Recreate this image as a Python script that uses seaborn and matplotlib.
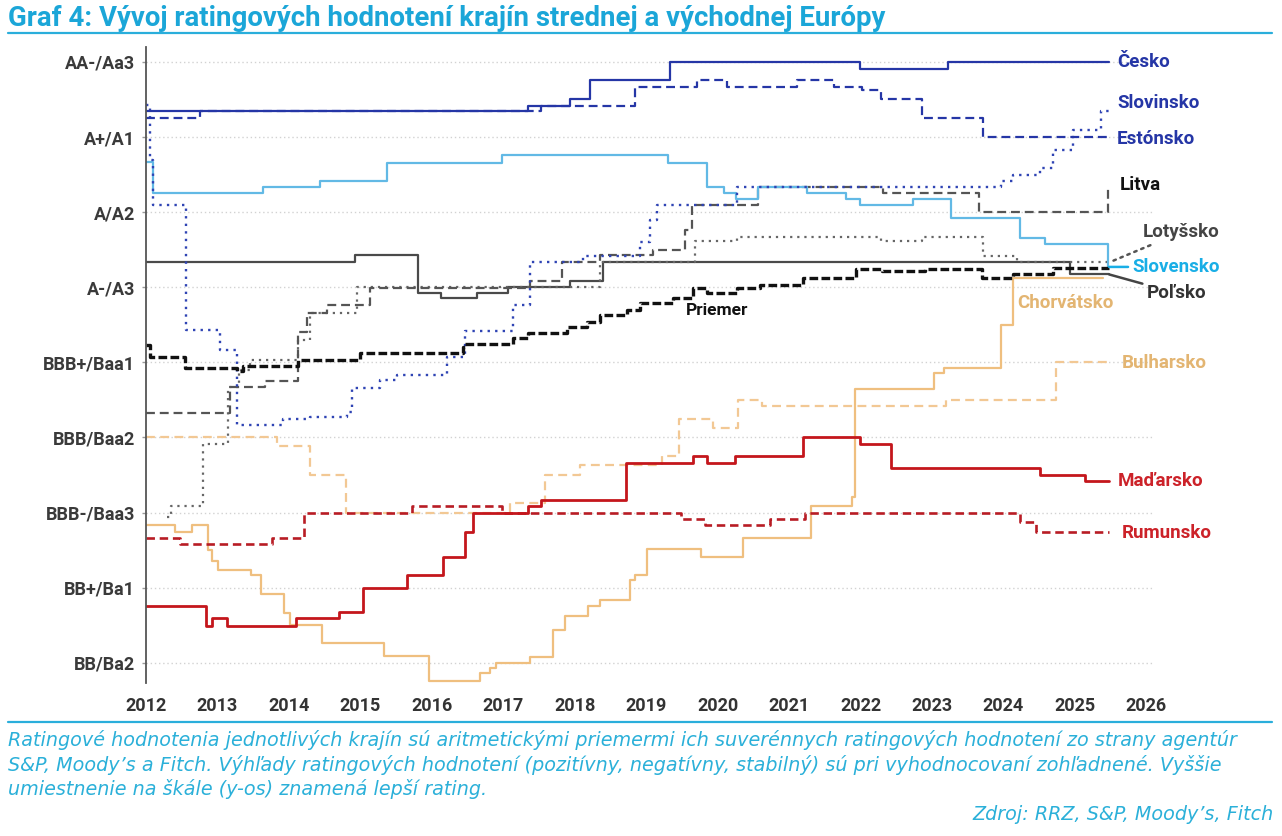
import matplotlib
matplotlib.use("Agg")
import matplotlib.pyplot as plt
import seaborn as sns
import pandas as pd
from matplotlib.lines import Line2D

W, H = 1282, 836

# ---------------- data ----------------
rating_labels = ["BB/Ba2", "BB+/Ba1", "BBB-/Baa3", "BBB/Baa2", "BBB+/Baa1",
                 "A-/A3", "A/A2", "A+/A1", "AA-/Aa3"]
year_ticks = list(range(2012, 2027))

cesko_t = [2012.0, 2017.35, 2017.93, 2018.21, 2019.33, 2021.99, 2023.22, 2025.48]
cesko_v = [7.34, 7.41, 7.50, 7.76, 8.00, 7.90, 8.00, 8.00]

estonsko_t = [2012.0, 2012.76, 2017.53, 2018.84, 2019.71, 2020.13, 2021.11, 2021.63,
              2022.02, 2022.29, 2022.86, 2023.71, 2025.48]
estonsko_v = [7.25, 7.34, 7.41, 7.67, 7.76, 7.67, 7.76, 7.67, 7.63, 7.51, 7.25, 7.00, 7.00]

slovinsko_t = [2012.0, 2012.05, 2012.10, 2012.56, 2013.04, 2013.27, 2013.92, 2014.30,
               2014.82, 2014.89, 2015.28, 2015.51, 2016.21, 2016.46, 2017.14, 2017.38,
               2018.12, 2018.91, 2019.05, 2019.15, 2020.27, 2023.97, 2024.13, 2024.51,
               2024.69, 2024.97, 2025.37, 2025.48]
slovinsko_v = [7.43, 6.70, 6.10, 4.43, 4.16, 3.16, 3.24, 3.27, 3.34, 3.66, 3.76, 3.83,
               4.07, 4.42, 4.76, 5.34, 5.41, 5.60, 5.90, 6.09, 6.34, 6.41, 6.50, 6.59,
               6.83, 7.09, 7.34, 7.34]

litva_t = [2012.0, 2013.18, 2013.67, 2014.13, 2014.25, 2014.53, 2015.14, 2017.38, 2017.82,
           2018.35, 2019.10, 2019.54, 2019.64, 2020.57, 2022.31, 2023.66, 2025.46, 2025.48]
litva_v = [3.33, 3.67, 3.75, 4.41, 4.66, 4.76, 4.99, 5.08, 5.34, 5.43, 5.50, 5.76, 6.09,
           6.34, 6.25, 6.00, 6.34, 6.34]

lotyssko_t = [2012.29, 2012.35, 2012.80, 2013.15, 2013.30, 2013.46, 2014.13, 2014.30,
              2014.95, 2018.35, 2019.68, 2020.27, 2022.29, 2022.86, 2023.71, 2024.19, 2025.48]
lotyssko_v = [1.94, 2.09, 2.91, 3.67, 3.90, 4.03, 4.30, 4.66, 5.00, 5.34, 5.62, 5.67,
              5.61, 5.67, 5.42, 5.33, 5.33]

slovensko_t = [2012.0, 2012.10, 2013.64, 2014.44, 2015.37, 2016.98, 2019.31, 2019.85,
               2020.09, 2020.26, 2020.57, 2021.25, 2021.80, 2021.99, 2022.73, 2023.27,
               2024.23, 2024.58, 2025.47, 2025.48]
slovensko_v = [6.67, 6.26, 6.34, 6.41, 6.66, 6.76, 6.66, 6.34, 6.26, 6.17, 6.34, 6.26,
               6.17, 6.09, 6.17, 5.92, 5.66, 5.58, 5.27, 5.27]

polsko_t = [2012.0, 2014.93, 2015.81, 2016.13, 2016.63, 2017.07, 2017.93, 2018.40, 2024.93, 2025.48]
polsko_v = [5.33, 5.43, 4.92, 4.86, 4.92, 5.00, 5.08, 5.34, 5.17, 5.17]

priemer_t = [2012.0, 2012.06, 2012.55, 2013.27, 2013.36, 2014.13, 2015.00, 2016.44, 2016.47,
             2017.14, 2017.35, 2017.89, 2018.17, 2018.35, 2018.73, 2018.91, 2019.38, 2019.65,
             2019.85, 2020.27, 2020.60, 2021.20, 2021.94, 2022.30, 2022.90, 2023.70, 2024.13,
             2024.69, 2025.48]
priemer_v = [4.23, 4.07, 3.93, 3.89, 3.95, 4.03, 4.12, 4.21, 4.25, 4.32, 4.39, 4.47, 4.54,
             4.63, 4.70, 4.79, 4.85, 4.99, 4.92, 4.99, 5.03, 5.12, 5.24, 5.21, 5.24, 5.12,
             5.18, 5.25, 5.25]

chorvatsko_t = [2012.0, 2012.41, 2012.64, 2012.87, 2012.93, 2013.01, 2013.47, 2013.61,
                2013.93, 2014.01, 2014.46, 2015.33, 2015.96, 2016.67, 2016.82, 2016.90,
                2017.38, 2017.70, 2017.86, 2018.19, 2018.35, 2018.78, 2018.84, 2019.01,
                2019.77, 2020.36, 2021.31, 2021.88, 2021.93, 2023.03, 2023.17, 2023.97,
                2024.14, 2025.39]
chorvatsko_v = [1.84, 1.74, 1.84, 1.50, 1.35, 1.24, 1.17, 0.91, 0.66, 0.50, 0.26, 0.09,
                -0.25, -0.14, -0.07, 0.00, 0.08, 0.44, 0.62, 0.75, 0.83, 1.10, 1.17, 1.51,
                1.41, 1.66, 2.09, 2.20, 3.65, 3.86, 3.92, 4.50, 5.12, 5.12]

bulharsko_t = [2012.0, 2013.84, 2014.30, 2014.80, 2017.10, 2017.58, 2018.07, 2019.22,
               2019.46, 2019.94, 2020.29, 2020.62, 2023.20, 2024.74, 2025.48]
bulharsko_v = [3.00, 2.88, 2.50, 2.00, 2.12, 2.50, 2.63, 2.75, 3.25, 3.12, 3.50, 3.42,
               3.50, 4.00, 4.00]

madarsko_t = [2012.0, 2012.84, 2012.92, 2013.13, 2014.10, 2014.70, 2015.04, 2015.65,
              2016.16, 2016.47, 2016.58, 2017.35, 2017.53, 2018.72, 2019.66, 2019.85,
              2020.24, 2021.19, 2021.99, 2022.43, 2024.51, 2025.14, 2025.48]
madarsko_v = [0.75, 0.49, 0.59, 0.49, 0.59, 0.67, 1.00, 1.17, 1.41, 1.74, 2.00, 2.09,
              2.17, 2.66, 2.75, 2.66, 2.75, 3.00, 2.91, 2.59, 2.50, 2.42, 2.42]

rumunsko_t = [2012.0, 2012.47, 2013.76, 2014.21, 2015.72, 2016.98, 2019.49, 2019.82,
              2020.74, 2021.22, 2024.23, 2024.46, 2025.48]
rumunsko_v = [1.66, 1.58, 1.66, 2.00, 2.09, 2.00, 1.91, 1.83, 1.91, 2.00, 1.88, 1.74, 1.74]

title = "Graf 4: Vývoj ratingových hodnotení krajín strednej a východnej Európy"
note_lines = [
    "Ratingové hodnotenia jednotlivých krajín sú aritmetickými priemermi ich suverénnych ratingových hodnotení zo strany agentúr",
    "S&P, Moody’s a Fitch. Výhľady ratingových hodnotení (pozitívny, negatívny, stabilný) sú pri vyhodnocovaní zohľadnené. Vyššie",
    "umiestnenie na škále (y-os) znamená lepší rating.",
]
source = "Zdroj: RRZ, S&P, Moody’s, Fitch"

# ---------------- styles ----------------
DB = "#2536a6"
series = [
    # name, t, v, color, linestyle, lw
    ("Chorvátsko", chorvatsko_t, chorvatsko_v, "#efbf7f", "-", 1.6),
    ("Bulharsko", bulharsko_t, bulharsko_v, "#f2c894", (0, (4, 2.4)), 1.6),
    ("Rumunsko", rumunsko_t, rumunsko_v, "#b81c24", (0, (3.2, 1.8)), 1.9),
    ("Maďarsko", madarsko_t, madarsko_v, "#c4161c", "-", 2.0),
    ("Poľsko", polsko_t, polsko_v, "#4a4a4a", "-", 1.6),
    ("Lotyšsko", lotyssko_t, lotyssko_v, "#666666", (0, (1, 2.2)), 1.6),
    ("Litva", litva_t, litva_v, "#555555", (0, (4, 2.2)), 1.6),
    ("Slovensko", slovensko_t, slovensko_v, "#62b9e5", "-", 1.6),
    ("Slovinsko", slovinsko_t, slovinsko_v, "#2f44b4", (0, (1, 2.2)), 1.7),
    ("Estónsko", estonsko_t, estonsko_v, DB, (0, (4, 2.2)), 1.6),
    ("Česko", cesko_t, cesko_v, DB, "-", 1.6),
    ("Priemer", priemer_t, priemer_v, "#111111", (0, (2.6, 1.0)), 2.4),
]

# label: (x_year, y_value, color, leader)
labels = {
    "Česko": (2025.59, 8.00, DB, None),
    "Slovinsko": (2025.59, 7.45, DB, None),
    "Estónsko": (2025.59, 6.98, DB, None),
    "Litva": (2025.63, 6.36, "#111111", None),
    "Lotyšsko": (2025.95, 5.73, "#444444", ("#555555", (0, (1, 2)))),
    "Slovensko": (2025.81, 5.27, "#19aee6", ("#19aee6", "-")),
    "Poľsko": (2026.01, 4.92, "#333333", ("#444444", "-")),
    "Chorvátsko": (2024.20, 4.79, "#e3b572", None),
    "Bulharsko": (2025.65, 3.99, "#e3b572", None),
    "Maďarsko": (2025.60, 2.42, "#cc2229", None),
    "Rumunsko": (2025.66, 1.73, "#cc2229", None),
    "Priemer": (2019.56, 4.69, "#111111", None),
}

# ---------------- figure ----------------
sns.set_theme(style="white")
plt.rcParams["font.family"] = ["Roboto", "DejaVu Sans"]

fig = plt.figure(figsize=(W / 100, H / 100), dpi=100)
fig.patch.set_facecolor("white")
ax = fig.add_axes([146 / W, 1 - 683 / H, (1153.5 - 146) / W, (683 - 46.7) / H])

for name, t, v, col, ls, lw in series:
    df = pd.DataFrame({"t": t, "v": v})
    sns.lineplot(data=df, x="t", y="v", ax=ax, color=col, linestyle=ls, linewidth=lw,
                 drawstyle="steps-post", estimator=None, sort=False,
                 dash_capstyle="butt")

ax.set_xlim(2012, 2012 + (1153.5 - 146) / 71.45)
ax.set_ylim((662.7 - 683) / 75.1, (662.7 - 46.7) / 75.1)
ax.set_yticks(range(len(rating_labels)))
ax.set_yticklabels(rating_labels)
ax.set_xticks(year_ticks)
ax.set_xticklabels([str(y) for y in year_ticks])
ax.set_xlabel("")
ax.set_ylabel("")
ax.yaxis.grid(True, linestyle=(0, (1, 2)), color="#d2d2d2", linewidth=1.0)
ax.xaxis.grid(False)
for s in ["top", "right", "bottom"]:
    ax.spines[s].set_visible(False)
ax.spines["left"].set_color("#555555")
ax.spines["left"].set_linewidth(1.3)
ax.tick_params(axis="y", which="major", left=True, length=3, width=1, color="#999999",
               pad=5, labelsize=13, labelcolor="#3a3a3a")
ax.tick_params(axis="x", which="major", length=0, pad=10, labelsize=13, labelcolor="#333333")
for lab in ax.get_yticklabels() + ax.get_xticklabels():
    lab.set_fontweight("bold")

for name, (lx, ly, col, leader) in labels.items():
    kw = dict(fontsize=13.5, fontweight="bold", color=col, ha="left", va="center",
              annotation_clip=False)
    if name == "Priemer":
        kw["fontsize"] = 12.5
    if leader is None:
        ax.annotate(name, xy=(lx, ly), **kw)
    else:
        t_end, v_end = None, None
        for n, t, v, *_ in series:
            if n == name:
                t_end, v_end = t[-1], v[-1]
        ax.annotate(name, xy=(t_end, v_end), xytext=(lx, ly),
                    arrowprops=dict(arrowstyle="-", color=leader[0], linestyle=leader[1],
                                    lw=1.8, shrinkA=1, shrinkB=0), **kw)

# title, rules, notes
t_title = fig.text(8 / W, 1 - 18 / H, title, ha="left", va="center", fontsize=16,
                   fontweight="bold", color="#1ba6d8")
fig.add_artist(Line2D([8 / W, 1272 / W], [1 - 33 / H, 1 - 33 / H], color="#2aaedb", lw=1.6))
fig.add_artist(Line2D([8 / W, 1272 / W], [1 - 722 / H, 1 - 722 / H], color="#2aaedb", lw=1.6))

note_y = [740, 765, 789]
note_texts = []
for line, y in zip(note_lines, note_y):
    note_texts.append(fig.text(8 / W, 1 - y / H, line, ha="left", va="center", fontsize=13,
                               style="italic", color="#2bb0d9",
                               family=["DejaVu Sans"]))
t_src = fig.text(1274 / W, 1 - 815 / H, source, ha="right", va="center", fontsize=13,
                 style="italic", color="#2bb0d9", family=["DejaVu Sans"])

renderer = fig.canvas.get_renderer()
def fit(t, target):
    w = t.get_window_extent(renderer).width
    t.set_fontsize(t.get_fontsize() * target / w)

fit(t_title, 879)
fit(note_texts[0], 1218)
fs = note_texts[0].get_fontsize()
for t in note_texts[1:] + [t_src]:
    t.set_fontsize(fs)

fig.savefig("out.png", dpi=100, facecolor="white")
